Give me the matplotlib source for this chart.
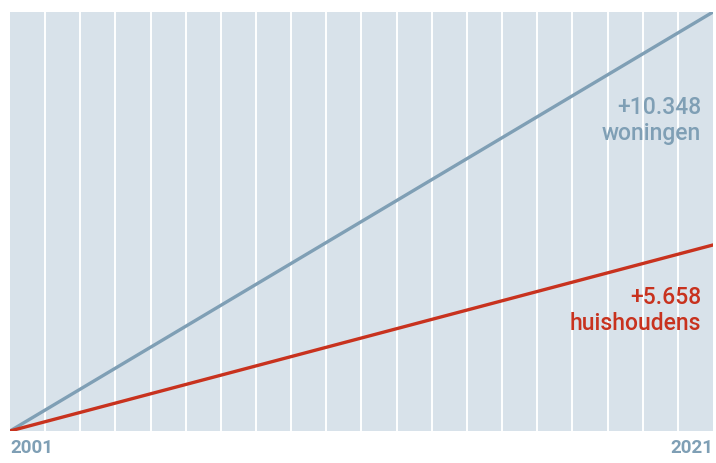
import matplotlib
matplotlib.use("Agg")
import matplotlib.pyplot as plt

years = list(range(2001, 2022))
# growth shown as relative height (chart is schematic)
woningen = [0, 100]
huishoudens = [0, 44.4]
line_years = [2001, 2021]
labels_woningen = ["+10.348", "woningen"]
labels_huis = ["+5.658", "huishoudens"]
tick_years = [2001, 2021]

bg = "#d8e2ea"
blue = "#7f9fb5"
red = "#c8321e"

fig = plt.figure(figsize=(7.16, 4.64), dpi=100)
ax = fig.add_axes([10/716, 32/464, 703/716, 419/464])
ax.set_facecolor(bg)
ax.set_xlim(2001, 2021)
ax.set_ylim(0, 100)
for y in years[1:-1]:
    ax.axvline(y, color="white", lw=1.4, zorder=1)
ax.plot(line_years, woningen, color=blue, lw=2.4, zorder=3, solid_capstyle="round")
ax.plot(line_years, huishoudens, color=red, lw=2.4, zorder=3, solid_capstyle="round")
for s in ax.spines.values():
    s.set_visible(False)
ax.set_yticks([])
ax.set_xticks(tick_years)
ax.set_xticklabels([str(t) for t in tick_years], fontsize=13.5, fontweight="bold",
                   color=blue, family="Roboto")
ax.tick_params(axis="x", length=0, pad=5)
lbls = ax.get_xticklabels()
lbls[0].set_ha("left")
lbls[-1].set_ha("right")

ax.text(0.983, 0.743, labels_woningen[0] + "\n" + labels_woningen[1], transform=ax.transAxes,
        ha="right", va="center", fontsize=16.5, fontweight="medium", color=blue,
        family="Roboto", linespacing=1.15)
ax.text(0.983, 0.29, labels_huis[0] + "\n" + labels_huis[1], transform=ax.transAxes,
        ha="right", va="center", fontsize=16.5, fontweight="medium", color=red,
        family="Roboto", linespacing=1.15)

fig.savefig("out.png", dpi=100)
